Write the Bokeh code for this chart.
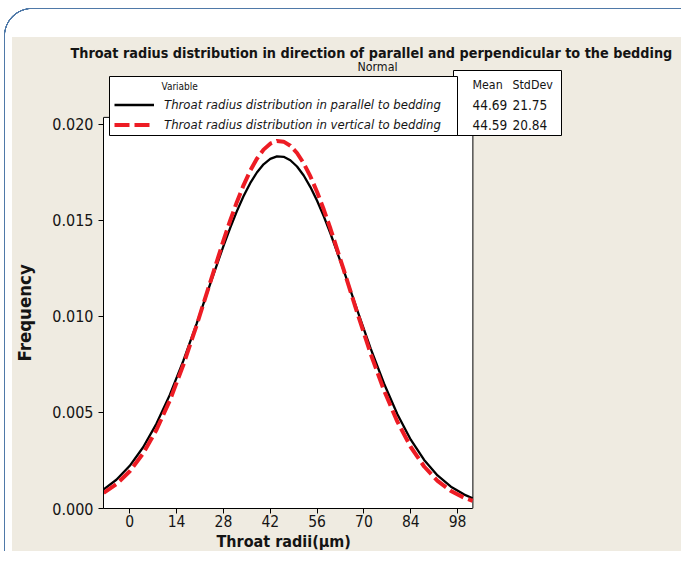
from bokeh.plotting import figure
from bokeh.models import Range1d, FixedTicker, BoxAnnotation, Label, Legend, LegendItem, Title
from bokeh.embed import file_html
from bokeh.resources import INLINE

# ---------------- data ----------------
x_vals = [-7.8, -4, 0, 4, 8, 12, 16, 20, 24, 28, 30, 32, 34, 36, 38, 40, 42, 44,
          46, 48, 50, 52, 54, 56, 58, 60, 64, 68, 72, 76, 80, 84, 88, 92, 96,
          100, 102.5]
parallel_vals = [0.000997, 0.001497, 0.002222, 0.003187, 0.004421, 0.005928,
                 0.007684, 0.009630, 0.011666, 0.013664, 0.014601, 0.015471,
                 0.016255, 0.016935, 0.017494, 0.017920, 0.018202, 0.018333,
                 0.018309, 0.018131, 0.017804, 0.017335, 0.016736, 0.016023,
                 0.015210, 0.014317, 0.012368, 0.010329, 0.008339, 0.006508,
                 0.004911, 0.003582, 0.002526, 0.001722, 0.001135, 0.000723,
                 0.000536]
vertical_vals = [0.000812, 0.001263, 0.001941, 0.002872, 0.004099, 0.005636,
                 0.007470, 0.009543, 0.011751, 0.013945, 0.014982, 0.015950,
                 0.016824, 0.017584, 0.018209, 0.018684, 0.018996, 0.019135,
                 0.019099, 0.018888, 0.018509, 0.017970, 0.017288, 0.016479,
                 0.015563, 0.014564, 0.012407, 0.010186, 0.008061, 0.006148,
                 0.004520, 0.003202, 0.002187, 0.001439, 0.000913, 0.000558,
                 0.000403]
series_names = ["Throat radius distribution in parallel to bedding",
                "Throat radius distribution in vertical to bedding"]
stat_headers = ["Mean", "StdDev"]
means = ["44.69", "44.59"]
stdevs = ["21.75", "20.84"]
x_ticks = [0, 14, 28, 42, 56, 70, 84, 98]
y_ticks = [0.0, 0.005, 0.010, 0.015, 0.020]
y_tick_labels = ["0.000", "0.005", "0.010", "0.015", "0.020"]
x_plot_min, x_plot_max = -7.85, 102.57
y_plot_max = 0.020364
title_text = "Throat radius distribution in direction of parallel and perpendicular to the bedding"
subtitle_text = "Normal"
x_title = "Throat radii(\u03bcm)"
y_title = "Frequency"

# ---------------- layout ----------------
W, H = 681, 551
FL, FT, FB = 102, 60, 509   # frame left / top / bottom (frame runs to right edge)
FW, FH = W - FL, FB - FT
X_PX = 3.351                # pixels per x unit
Y_PX = 19250.0              # pixels per y unit
BEIGE = "#efebe1"
BLUE = "#4f79a8"
FONT = "DejaVu Sans Condensed"
TXT = "#141414"


def sx(fx):
    return fx - FL


def sy(fy):
    return FB - fy


bg_images = ", ".join([
    f"radial-gradient(circle at 100% 100%, transparent 26.6px, {BLUE} 26.9px, {BLUE} 28.1px, transparent 28.4px)",
    f"radial-gradient(circle at 0% 100%, transparent 15.6px, {BLUE} 15.9px, {BLUE} 17.1px, transparent 17.4px)",
    f"linear-gradient({BLUE}, {BLUE})",
    f"linear-gradient({BLUE}, {BLUE})",
    "linear-gradient(#ffffff, #ffffff)",
    "linear-gradient(#ffffff, #ffffff)",
])
bg_pos = "4px 8px, 680px 8px, 32px 8px, 4px 36px, 0px 0px, 0px 0px"
bg_size = "28px 28px, 17px 17px, 648px 1.3px, 1.3px 600px, 681px 37px, 12px 600px"

p = figure(width=W, height=H,
           min_border_left=FL, min_border_top=FT, min_border_right=0,
           min_border_bottom=H - FB,
           x_range=Range1d(x_plot_min, x_plot_min + FW / X_PX),
           y_range=Range1d(0, FH / Y_PX),
           output_backend="svg", toolbar_location=None, title=title_text,
           styles={"background-color": BEIGE,
                   "background-image": bg_images,
                   "background-position": bg_pos,
                   "background-size": bg_size,
                   "background-repeat": "no-repeat"})
p.border_fill_color = None
p.background_fill_color = None
p.outline_line_color = None
p.grid.visible = False

p.title.align = "left"
p.title.offset = 69 - FL
p.title.standoff = 0
p.title.text_font = FONT
p.title.text_font_style = "bold"
p.title.text_font_size = "14.3px"
p.title.text_color = TXT

# axes
for ax in (p.xaxis[0], p.yaxis[0]):
    ax.axis_line_color = "black"
    ax.major_tick_line_color = "black"
    ax.minor_tick_line_color = None
    ax.major_tick_in = 0
    ax.major_tick_out = 5
    ax.major_label_text_font = FONT
    ax.major_label_text_color = TXT

p.xaxis.ticker = FixedTicker(ticks=x_ticks)
p.yaxis.ticker = FixedTicker(ticks=y_ticks)
p.yaxis.major_label_overrides = {t: s for t, s in zip(y_ticks, y_tick_labels)}
p.xaxis.bounds = (x_plot_min, x_plot_max)
p.yaxis.bounds = (0, y_plot_max)
p.xaxis.major_label_text_font_size = "15.5px"
p.yaxis.major_label_text_font_size = "16px"
p.xaxis.major_label_standoff = 1
p.yaxis.major_label_standoff = 5

# axis titles as side titles so they sit under / beside the plot area
p.add_layout(Title(text=x_title, align="left", offset=215 - FL, standoff=1,
                   vertical_align="bottom", text_font=FONT, text_font_style="bold",
                   text_font_size="16px", text_color=TXT), "below")
p.add_layout(Title(text=y_title, align="left", offset=FB - 362, standoff=26,
                   vertical_align="top", text_font=FONT, text_font_style="bold",
                   text_font_size="18.5px", text_color=TXT), "left")

# white plot area with black outline
p.add_layout(BoxAnnotation(left=x_plot_min, right=x_plot_max, bottom=0, top=y_plot_max,
                           fill_color="white", fill_alpha=1, line_color="black",
                           line_alpha=1, line_width=1, level="underlay"))

# curves
r1 = p.line(x_vals, parallel_vals, line_color="black", line_width=2.3)
r2 = p.line(x_vals, vertical_vals, line_color="#ed1c24", line_width=4,
            line_dash="15 5")

# subtitle
p.add_layout(Label(x=sx(376), y=sy(67), x_units="screen", y_units="screen",
                   text=subtitle_text, text_align="center", text_baseline="middle",
                   text_font=FONT, text_font_size="12.3px", text_color=TXT))


def box(l, t, r, b):
    return BoxAnnotation(left=sx(l), right=sx(r), top=sy(t), bottom=sy(b),
                         left_units="screen", right_units="screen",
                         top_units="screen", bottom_units="screen",
                         fill_color="white", fill_alpha=1, line_color="black",
                         line_alpha=1, line_width=1)


# stats box (beneath) and legend box
p.add_layout(box(452, 71, 560, 136))
p.add_layout(box(108, 77, 456, 136))

p.add_layout(Label(x=sx(160), y=sy(87), x_units="screen", y_units="screen",
                   text="Variable", text_align="left", text_baseline="middle",
                   text_font=FONT, text_font_size="10px", text_color=TXT))

legend = Legend(items=[LegendItem(label=series_names[0], renderers=[r1]),
                       LegendItem(label=series_names[1], renderers=[r2])],
                location=(sx(113), sy(134.5)), padding=0, margin=0, spacing=1,
                glyph_width=40, glyph_height=19, label_height=19,
                label_standoff=10, background_fill_alpha=0,
                border_line_color=None, label_text_font=FONT,
                label_text_font_style="italic", label_text_font_size="13px",
                label_text_color=TXT)
p.add_layout(legend)

# stats table
stat_rows = [(stat_headers[0], stat_headers[1], 85, "12.3px")] + \
    [(m, s, y, "13.5px") for m, s, y in zip(means, stdevs, [105, 125])]
for c1, c2, fy, fs in stat_rows:
    p.add_layout(Label(x=sx(471), y=sy(fy), x_units="screen", y_units="screen",
                       text=c1, text_align="left", text_baseline="middle",
                       text_font=FONT, text_font_size=fs, text_color=TXT))
    p.add_layout(Label(x=sx(511), y=sy(fy), x_units="screen", y_units="screen",
                       text=c2, text_align="left", text_baseline="middle",
                       text_font=FONT, text_font_size=fs, text_color=TXT))

open("out.html", "w").write(file_html(p, INLINE))
